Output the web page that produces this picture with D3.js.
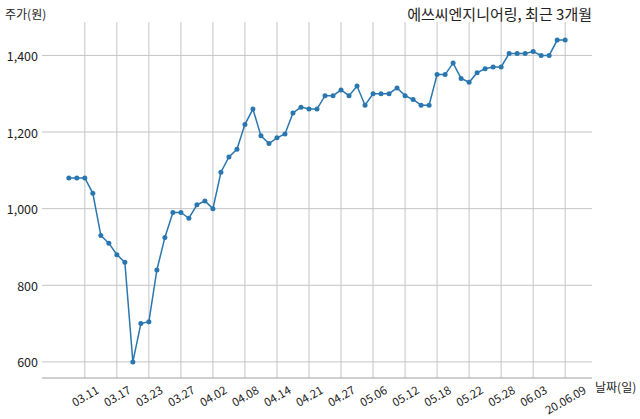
<!DOCTYPE html>
<html><head><meta charset="utf-8">
<script src="https://cdn.jsdelivr.net/npm/d3@7"></script>
<style>body{margin:0;background:#fff}svg{display:block}text{font-family:"Noto Sans CJK KR","Noto Sans",sans-serif}</style>
</head><body><svg id="c" width="640" height="419"></svg>
<script>
const dates = ["03.09","03.10","03.11","03.12","03.13","03.16","03.17","03.18","03.19","03.20","03.23","03.24","03.25","03.26","03.27","03.30","03.31",
"04.01","04.02","04.03","04.06","04.07","04.08","04.09","04.10","04.13","04.14","04.16","04.17","04.20","04.21","04.22","04.23","04.24","04.27","04.28","04.29",
"05.04","05.06","05.07","05.08","05.11","05.12","05.13","05.14","05.15","05.18","05.19","05.20","05.21","05.22","05.25","05.26","05.27","05.28","05.29",
"06.01","06.02","06.03","06.04","06.05","06.08","06.09"];
const prices = [1080,1080,1080,1040,930,910,880,860,600,700,705,840,925,990,990,975,1010,
1020,1000,1095,1135,1155,1220,1260,1190,1170,1185,1195,1250,1265,1260,1260,1295,1295,1310,1295,1320,
1270,1300,1300,1300,1315,1295,1285,1270,1270,1350,1350,1380,1340,1330,1355,1365,1370,1370,1405,
1405,1405,1410,1400,1400,1440,1440];
const tickIdx = [2,6,10,14,18,22,26,30,34,38,42,46,50,54,58,62];
const tickLabels = ["03.11","03.17","03.23","03.27","04.02","04.08","04.14","04.21","04.27","05.06","05.12","05.18","05.22","05.28","06.03","20.06.09"];
const yTicks = [600,800,1000,1200,1400];
const title = "에쓰씨엔지니어링, 최근 3개월";
const yTitle = "주가(원)";
const xTitle = "날짜(일)";

const svg = d3.select("#c");
const L=44, R=590, T=24, B=378;
const n = prices.length;
const x = d3.scaleLinear().domain([-0.05*(n-1), (n-1)*1.05]).range([L,R]);
const ymin=d3.min(prices), ymax=d3.max(prices), pad=(ymax-ymin)*0.05;
const y = d3.scaleLinear().domain([ymin-pad, ymax+pad]).range([B,T]);

const grid = svg.append("g");
grid.selectAll("line.h").data(yTicks).join("line")
 .attr("x1",L-2).attr("x2",R+2).attr("y1",d=>y(d)).attr("y2",d=>y(d))
 .attr("stroke","#c4c4c4").attr("stroke-width",1);
grid.selectAll("line.v").data(tickIdx).join("line").attr("class","v")
 .attr("x1",d=>x(d)).attr("x2",d=>x(d)).attr("y1",T-2).attr("y2",B)
 .attr("stroke","#c4c4c4").attr("stroke-width",1);
svg.append("line").attr("x1",L-2).attr("x2",R+2).attr("y1",B).attr("y2",B).attr("stroke","#a0a0a0").attr("stroke-width",1);

svg.append("g").selectAll("text").data(yTicks).join("text")
 .attr("x",38).attr("y",d=>y(d)).attr("text-anchor","end").attr("dominant-baseline","central")
 .attr("font-size",12.5).attr("fill","#222").text(d3.format(","));

const xl = svg.append("g").selectAll("text").data(tickIdx).join("text")
 .attr("text-anchor","middle").attr("dominant-baseline","central")
 .attr("font-size",11.5).attr("fill","#222").text((d,i)=>tickLabels[i]);
xl.each(function(d){
  const w=this.getComputedTextLength(), h=12;
  const rh = w*0.5 + h*0.866;
  d3.select(this).attr("transform",`translate(${x(d)},${383+rh/2}) rotate(-30)`);
});

const line = d3.line().x((d,i)=>x(i)).y(d=>y(d));
svg.append("path").datum(prices).attr("d",line).attr("fill","none").attr("stroke","#2a77b0").attr("stroke-width",1.5);
svg.append("g").selectAll("circle").data(prices).join("circle")
 .attr("cx",(d,i)=>x(i)).attr("cy",d=>y(d)).attr("r",2.5).attr("fill","#2a77b0");

svg.append("text").attr("x",592).attr("y",20).attr("text-anchor","end").attr("font-size",15).attr("fill","#222").text(title);
svg.append("text").attr("x",5).attr("y",19).attr("font-size",12).attr("fill","#222").text(yTitle);
svg.append("text").attr("x",595).attr("y",392).attr("font-size",12).attr("fill","#222").text(xTitle);
</script></body></html>
